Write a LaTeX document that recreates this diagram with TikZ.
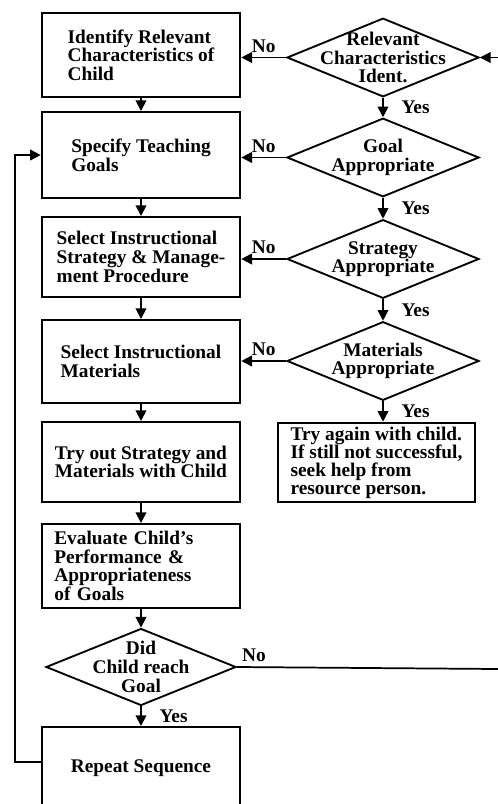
\documentclass[tikz,border=0pt]{standalone}
\usepackage{fontspec}
\setmainfont{Liberation Serif}
\usetikzlibrary{shapes.geometric,arrows.meta}

\begin{document}
\begin{tikzpicture}[x=0.75pt,y=-0.75pt,
    font=\fontsize{14.5pt}{14pt}\selectfont\bfseries,
    box/.style={draw,line width=1.5pt,minimum width=149pt,align=left,inner sep=3pt},
    dia/.style={draw,diamond,line width=1.4pt,inner sep=0pt,minimum width=144pt,minimum height=59pt},
    arr/.style={line width=1.3pt,-{Triangle[length=8pt,width=8pt]}}]
    % Frame
    \clip (0,0) rectangle (498,804);

    % Left column
    \node[box,minimum height=63pt] (ident) at (141,55) {Identify Relevant\\Characteristics of\\Child};
    \node[box,minimum height=64.5pt] (goals) at (141,155) {Specify Teaching\\Goals};
    \node[box,minimum height=60pt] (strat) at (141,257) {Select Instructional\\Strategy \& Manage-\\ment Procedure};
    \node[box,minimum height=62.25pt] (mater) at (141,361.5) {Select Instructional\\Materials};
    \node[box,minimum height=60pt] (tryout) at (141,462) {Try out Strategy and\\Materials with Child};
    \node[box,minimum height=63pt,text width=130pt] (evalu) at (141,566) {Evaluate Child's\\Performance \&\\Appropriateness\\of Goals};
    \node[dia,minimum width=142.5pt,minimum height=57.75pt,label={[align=center]center:Did\\Child reach\\Goal}] (qreach) at (141,667) {};
    \node[box,minimum height=62.25pt] (again) at (141,768.5) {Repeat Sequence};

    % Right column
    \node[dia,label={[align=center]center:Relevant\\Characteristics\\Ident.}] (qchar) at (383,57.5) {};
    \node[dia,label={[align=center]center:Goal\\Appropriate}] (qgoal) at (383,157.5) {};
    \node[dia,label={[align=center]center:Strategy\\Appropriate}] (qstrat) at (383,259) {};
    \node[dia,label={[align=center]center:Materials\\Appropriate}] (qmat) at (383,361) {};
    \node[box,minimum width=147.75pt,minimum height=59.25pt,font=\fontsize{14.5pt}{13.5pt}\selectfont\bfseries] (help) at (376.5,462.5) {Try again with child.\\If still not successful,\\seek help from\\resource person.};

    % Cut ends at the right edge
    \coordinate (rimA) at (498,57.5);
    \coordinate (rimB) at (498,669);

    % Main sequence
    \draw[arr] (ident) -- (goals);
    \draw[arr] (goals) -- (strat);
    \draw[arr] (strat) -- (mater);
    \draw[arr] (mater) -- (tryout);
    \draw[arr] (tryout) -- (evalu);
    \draw[arr] (evalu) -- (qreach);
    \draw[arr] (qreach) -- node[right=10pt] {Yes} (again);

    % Checks
    \draw[arr] (qchar) -- node[right=10pt] {Yes} (qgoal);
    \draw[arr] (qgoal) -- node[right=10pt] {Yes} (qstrat);
    \draw[arr] (qstrat) -- node[right=10pt] {Yes} (qmat);
    \draw[arr] (qmat.south) -- node[right=10pt] {Yes} (qmat.south |- help.north);
    \draw[arr] (qchar.west) -- node[above] {No} (qchar.west -| ident.east);
    \draw[arr] (qgoal.west) -- node[above] {No} (qgoal.west -| goals.east);
    \draw[arr] (qstrat.west) -- node[above] {No} (qstrat.west -| strat.east);
    \draw[arr] (qmat.west) -- node[above] {No} (qmat.west -| mater.east);

    % Loops
    \draw[line width=1.3pt] (qreach.east) -- node[above right,pos=0] {No} (rimB);
    \draw[arr] (rimA) -- (qchar.east);
    \draw[arr] ([yshift=5pt]again.west) -- ++(-26,0) |- (goals.west);
\end{tikzpicture}
\end{document}
